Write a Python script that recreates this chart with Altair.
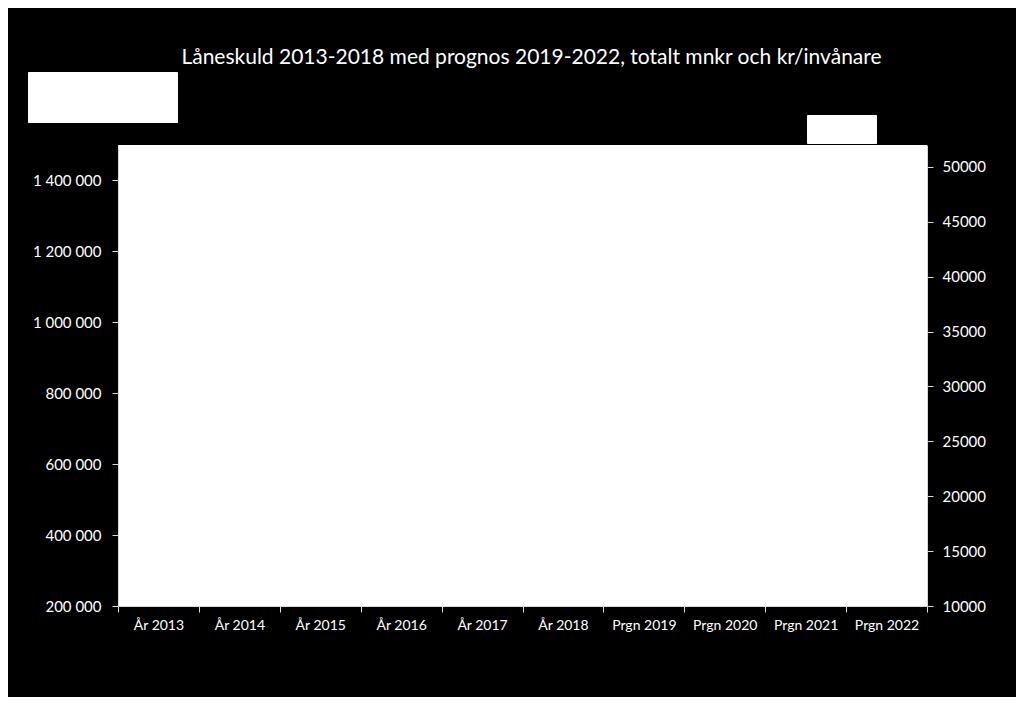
import altair as alt
import pandas as pd

categories = ["År 2013", "År 2014", "År 2015", "År 2016", "År 2017", "År 2018",
              "Prgn 2019", "Prgn 2020", "Prgn 2021", "Prgn 2022"]
# The series in the reference are drawn white on white (not visible); estimated values
total_mnkr = [1277000, 1389000, 1366000, 1265000, 1222000, 1114000, 1060000, 1000000, 950000, 900000]
kr_per_inv = [45000, 47000, 46000, 43000, 41000, 37000, 35000, 33000, 31000, 29000]
left_ticks = [200000, 400000, 600000, 800000, 1000000, 1200000, 1400000]
right_ticks = [10000, 15000, 20000, 25000, 30000, 35000, 40000, 45000, 50000]
series_bar = "Låneskuld totalt, mnkr"
series_line = "Kr/invånare"

df = pd.DataFrame({
    "Kategori": categories,
    "Totalt": total_mnkr,
    "PerInv": kr_per_inv,
    "s1": [series_bar] * len(categories),
    "s2": [series_line] * len(categories),
})

FONT = "Lato"

space_fmt = (
    "datum.value >= 1000000 ? "
    "format(floor(datum.value/1000000),'d') + ' ' + format(floor(datum.value/1000)%1000,'03d') + ' ' + format(datum.value%1000,'03d') : "
    "format(floor(datum.value/1000),'d') + ' ' + format(datum.value%1000,'03d')"
)

x = alt.X(
    "Kategori:N", sort=categories, title=None,
    scale=alt.Scale(paddingInner=0, paddingOuter=0),
    axis=alt.Axis(labelAngle=0, tickBand="extent", labelColor="white", labelFont=FONT,
                  labelFontSize=14, labelPadding=6, tickColor="#d9d9d9", tickSize=6,
                  domainColor="#d9d9d9", labelLimit=200),
)

bars = alt.Chart(df).mark_bar(clip=True, size=40).encode(
    x=x,
    y=alt.Y("Totalt:Q", title=None,
            scale=alt.Scale(domain=[200000, 1500000], zero=False, nice=False),
            axis=alt.Axis(values=left_ticks, labelExpr=space_fmt, labelColor="white", labelFont=FONT,
                          labelFontSize=15, labelPadding=11, tickColor="#d9d9d9", tickSize=6,
                          domainColor="#d9d9d9", grid=False)),
    color=alt.Color("s1:N", scale=alt.Scale(domain=[series_bar], range=["white"]),
                    legend=alt.Legend(orient="none", legendX=-90, legendY=-73, title=None,
                                      fillColor="white", strokeColor="white", padding=12,
                                      symbolType="square", symbolSize=484,
                                      symbolFillColor="white", symbolStrokeColor="white",
                                      labelColor="white", labelFont=FONT, labelFontSize=12,
                                      labelLimit=97, labelOffset=5)),
)

line = alt.Chart(df).mark_line(clip=True, strokeWidth=3).encode(
    x=x,
    y=alt.Y("PerInv:Q", title=None,
            scale=alt.Scale(domain=[10000, 52000], zero=False, nice=False),
            axis=alt.Axis(orient="right", values=right_ticks, format="d", labelColor="white",
                          labelFont=FONT, labelFontSize=15, labelPadding=9,
                          tickColor="#d9d9d9", tickSize=6, domainColor="#d9d9d9", grid=False)),
    stroke=alt.Stroke("s2:N", scale=alt.Scale(domain=[series_line], range=["white"]),
                      legend=alt.Legend(orient="none", legendX=689, legendY=-30, title=None,
                                        fillColor="white", strokeColor="white", padding=5,
                                        symbolType="square", symbolSize=196,
                                        symbolFillColor="white", symbolStrokeColor="white",
                                        labelColor="white", labelFont=FONT, labelFontSize=11,
                                        labelLimit=42, labelOffset=4)),
)

chart = alt.layer(bars, line).resolve_scale(
    y="independent", color="independent", stroke="independent"
).properties(
    width=809, height=461,
    padding={"left": 110, "top": 137, "right": 89, "bottom": 91},
    autosize=alt.AutoSizeParams(type="none"),
    title=alt.TitleParams(
        "Låneskuld 2013-2018 med prognos 2019-2022, totalt mnkr och kr/invånare",
        color="white", font=FONT, fontSize=21, fontWeight="normal", anchor="middle",
        frame="group", dx=9, offset=4),
).configure(
    background="black",
).configure_view(fill="white", stroke=None)

chart.save("out.html", embed_options={"renderer": "svg", "actions": False})
